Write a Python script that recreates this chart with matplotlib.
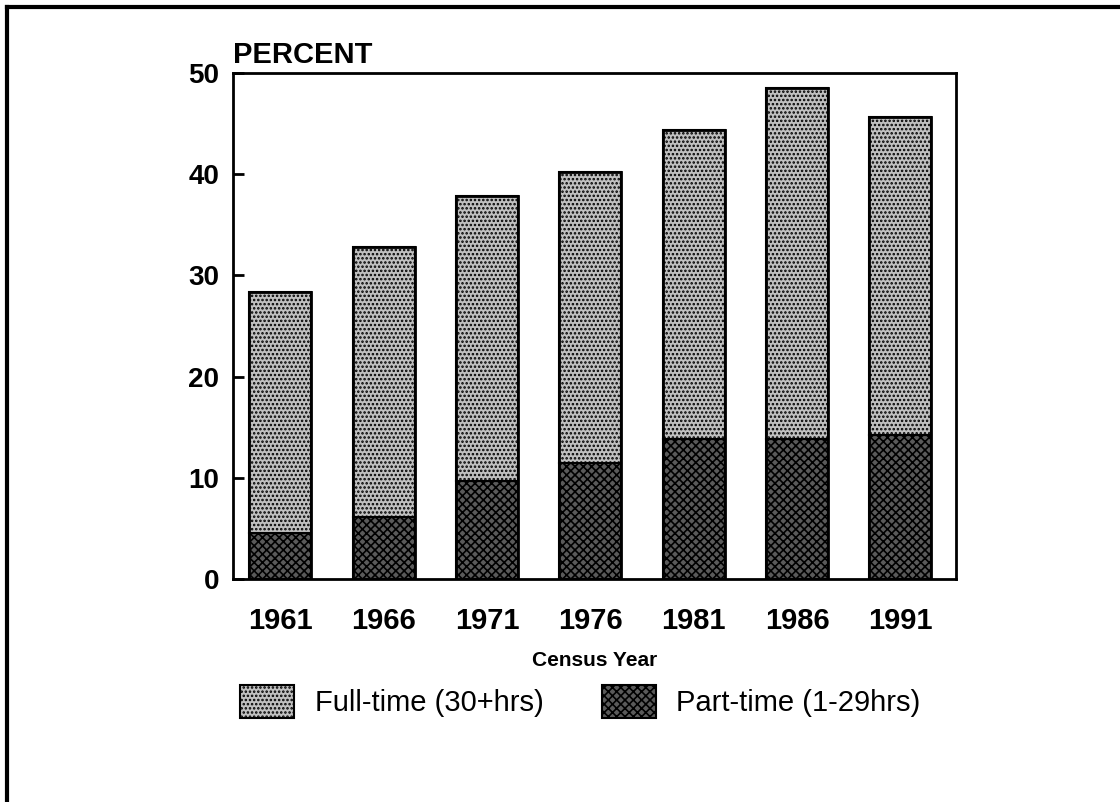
import matplotlib
matplotlib.use('Agg')
import matplotlib.pyplot as plt
from matplotlib.patches import Patch
from matplotlib.lines import Line2D

years = ['1961', '1966', '1971', '1976', '1981', '1986', '1991']
part_time = [4.5, 6.1, 9.7, 11.5, 13.8, 13.8, 14.2]
total = [28.4, 32.8, 37.8, 40.2, 44.4, 48.5, 45.7]
full_time = [t - p for t, p in zip(total, part_time)]

plt.rcParams['font.family'] = ['Liberation Sans', 'DejaVu Sans']
plt.rcParams['hatch.linewidth'] = 1.2

light = '#c0c0c0'
dark = '#5a5a5a'

fig = plt.figure(figsize=(11.2, 8.02), dpi=100)
ax = fig.add_axes([0.208, 0.278, 0.6456, 0.631])

x = range(len(years))
ax.bar(x, part_time, width=0.6, color=dark, edgecolor='black', hatch='xxxx', linewidth=1.5)
ax.bar(x, full_time, width=0.6, bottom=part_time, color=light, edgecolor='black',
       hatch='....', linewidth=1.5)
# outline over the whole stack
ax.bar(x, total, width=0.6, fill=False, edgecolor='black', linewidth=2)

ax.set_xlim(-0.46, 6.54)
ax.set_ylim(0, 50)
ax.set_yticks([0, 10, 20, 30, 40, 50])
ax.set_xticks(list(x))
ax.set_xticklabels(years)
ax.tick_params(axis='y', direction='in', length=8, width=2, labelsize=20, pad=10)
ax.tick_params(axis='x', length=0, labelsize=21, pad=20)
for lab in ax.get_xticklabels() + ax.get_yticklabels():
    lab.set_fontweight('bold')
for s in ax.spines.values():
    s.set_linewidth(2)

ax.text(0.0, 1.008, 'PERCENT', transform=ax.transAxes, fontsize=21,
        fontweight='bold', ha='left', va='bottom')
ax.set_xlabel('Census Year', fontsize=15, fontweight='bold', labelpad=12)

handles = [Patch(facecolor=light, edgecolor='black', hatch='....', linewidth=1.5),
           Patch(facecolor=dark, edgecolor='black', hatch='xxxx', linewidth=1.5)]
fig.legend(handles, ['Full-time (30+hrs)', 'Part-time (1-29hrs)'],
           loc='upper left', bbox_to_anchor=(0.204, 0.160), ncol=2, frameon=False,
           fontsize=21, handlelength=1.85, handleheight=1.35, columnspacing=2.0,
           handletextpad=0.7, borderaxespad=0)

# scan frame: left and top edge
fig.add_artist(Line2D([0.0063, 0.0063], [0, 0.9913], color='black', linewidth=3,
                      transform=fig.transFigure))
fig.add_artist(Line2D([0.0063, 1.0], [0.9913, 0.9913], color='black', linewidth=3,
                      transform=fig.transFigure))

fig.savefig('out.png', dpi=100)
